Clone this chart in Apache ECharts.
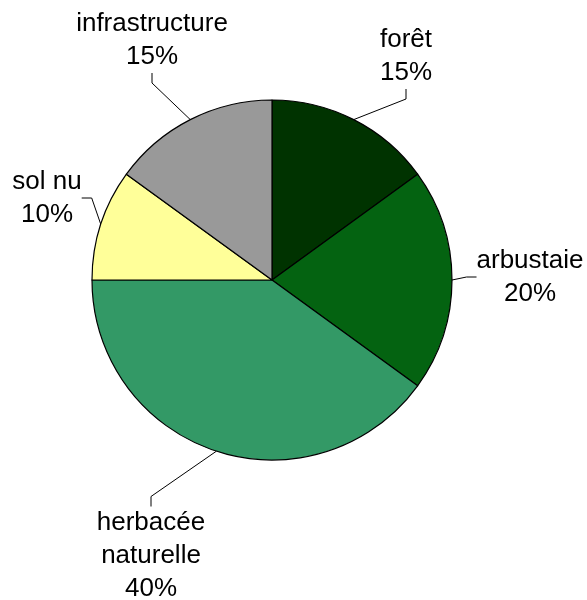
<!DOCTYPE html>
<html>
<head>
<meta charset="utf-8">
<script src="https://cdn.jsdelivr.net/npm/echarts@6/dist/echarts.min.js"></script>
<style>
  html, body { margin: 0; padding: 0; background: #fff; }
  #pie { width: 587px; height: 600px; }
</style>
</head>
<body>
<div id="pie"></div>
<script>
// catégories d'occupation du sol
const categories = ['forêt', 'arbustaie', 'herbacée\nnaturelle', 'sol nu', 'infrastructure'];
// part en %
const shares = [15, 20, 40, 10, 15];
const colors = ['#003300', '#046311', '#339966', '#ffff99', '#999999'];

// emplacement des étiquettes (centre du bloc de texte)
const labelSpots = [
  [406, 56],
  [530, 277],
  [151, 556],
  [47, 198],
  [152, 40]
];

const myChart = echarts.init(document.getElementById('pie'));

const option = {
  animation: false,
  color: colors,
  series: [
    {
      type: 'pie',
      center: [272, 280],
      radius: 180,
      startAngle: 90,
      clockwise: true,
      itemStyle: {
        borderColor: '#000',
        borderWidth: 1.2
      },
      label: {
        show: true,
        position: 'outside',
        color: '#000',
        fontFamily: 'Liberation Sans, Arial, sans-serif',
        fontSize: 26,
        lineHeight: 33,
        align: 'center',
        overflow: 'none',
        formatter: p => p.name + '\n' + p.value + '%'
      },
      labelLine: {
        show: true,
        length: 20,
        length2: 10,
        lineStyle: { color: '#000', width: 1 }
      },
      labelLayout: p => ({
        x: labelSpots[p.dataIndex][0],
        y: labelSpots[p.dataIndex][1],
        align: 'center',
        verticalAlign: 'middle'
      }),
      emphasis: { disabled: true },
      data: categories.map((c, i) => ({ name: c, value: shares[i] }))
    }
  ]
};
myChart.setOption(option);
</script>
</body>
</html>
